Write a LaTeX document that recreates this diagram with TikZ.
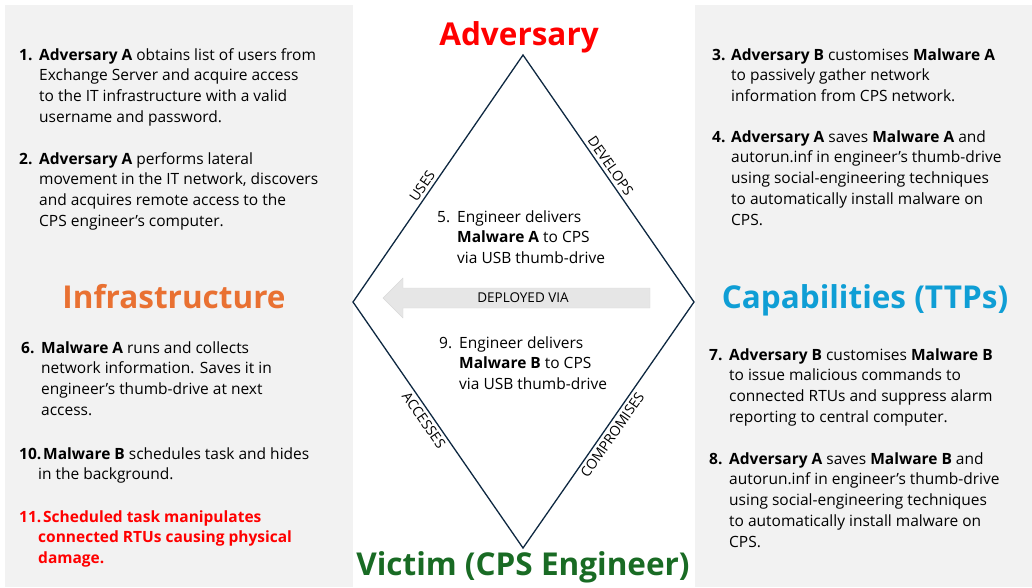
\documentclass[tikz,border=0pt]{standalone}
\usepackage{fontspec}
\setmainfont{Open Sans}
\usepackage{xcolor}
\usepackage{tikz}

\definecolor{panelgray}{HTML}{F2F2F2}
\definecolor{edgenavy}{HTML}{0E2841}
\definecolor{advred}{HTML}{FF0000}
\definecolor{infraorange}{HTML}{E97132}
\definecolor{capblue}{HTML}{0F9ED5}
\definecolor{victimgreen}{HTML}{196B24}
\definecolor{arrowgray}{HTML}{E6E6E6}

\newcommand{\bodyfont}{\fontsize{15.5}{20.8}\selectfont}
\newcommand{\lns}[1]{\begin{tabular}[t]{@{}l@{}}#1\end{tabular}}

\tikzset{
  num/.style={anchor=base west, inner sep=0pt, font=\bodyfont},
  body/.style={anchor=base west, inner sep=0pt, font=\bodyfont},
  vertex/.style={inner sep=0pt, font=\fontsize{31.5}{31.5}\selectfont\bfseries},
  rel/.style={sloped, inner sep=3.5pt, font=\fontsize{14}{14}\selectfont}
}

\begin{document}
\begin{tikzpicture}[x=1pt, y=-1pt]
             \useasboundingbox (0,0) rectangle (1032,587);
             \fill[panelgray] (5,5) rectangle (353,587);
             \fill[panelgray] (695,5) rectangle (1032,587);

             \coordinate (top) at (523,55);
             \coordinate (lft) at (353,302);
             \coordinate (rgt) at (694,302);
             \coordinate (bot) at (523,548);
             \draw[edgenavy, line width=1.3pt] (top) -- (rgt) -- (bot) -- (lft) -- cycle;

             \path (lft) -- node[rel, above, pos=.45] (uses) {USES} (top);
             \path (top) -- node[rel, above, pos=.47] (develops) {DEVELOPS} (rgt);
             \path (lft) -- node[rel, below, pos=.46] (accesses) {ACCESSES} (bot);
             \path (bot) -- node[rel, below, pos=.48] (compromises) {COMPROMISES} (rgt);

             \node[vertex, advred, anchor=base] (adv) at (519,45) {Adversary};
             \node[vertex, infraorange, anchor=base] (infra) at (174,308) {Infrastructure};
             \node[vertex, capblue, anchor=base] (cap) at (865,308) {Capabilities (TTPs)};
             \node[vertex, victimgreen, anchor=base] (victim) at (523,575) {Victim (CPS Engineer)};

             \fill[arrowgray, draw=black!15] (650,288) -- (403,288) -- (403,278) -- (383,298)
                  -- (403,318) -- (403,308) -- (650,308) -- cycle;
             \node[inner sep=0pt, font=\fontsize{13.5}{13.5}\selectfont] (deployed) at (523,298) {DEPLOYED VIA};

             \node[num] (n5) at (437,222) {5.};
             \node[body] (t5) at (457,222) {\lns{Engineer delivers\\ \textbf{Malware A} to CPS\\ via USB thumb-drive}};
             \node[num] (n9) at (439,348) {9.};
             \node[body] (t9) at (459,348) {\lns{Engineer delivers\\ \textbf{Malware B} to CPS\\ via USB thumb-drive}};

             \node[num] (n1) at (19,60) {\textbf{1.}};
             \node[body] (t1) at (39,60) {\lns{\textbf{Adversary A} obtains list of users from\\ Exchange Server and acquire access\\ to the IT infrastructure with a valid\\ username and password.}};
             \node[num] (n2) at (19,164) {\textbf{2.}};
             \node[body] (t2) at (39,164) {\lns{\textbf{Adversary A} performs lateral\\ movement in the IT network, discovers\\ and acquires remote access to the\\ CPS engineer’s computer.}};
             \node[num] (n6) at (21,353) {\textbf{6.}};
             \node[body] (t6) at (41,353) {\lns{\textbf{Malware A} runs and collects\\ network information. Saves it in\\ engineer’s thumb-drive at next\\ access.}};
             \node[num] (n10) at (19,459) {\textbf{10.}};
             \node[body] (t10) at (38,459) {\lns{\hspace{5pt}\textbf{Malware B} schedules task and hides\\ in the background.}};
             \node[num, advred] (n11) at (19,522) {\textbf{11.}};
             \node[body, advred] (t11) at (38,522) {\lns{\bfseries\hspace{5pt}Scheduled task manipulates\\ \bfseries connected RTUs causing physical\\ \bfseries damage.}};

             \node[num] (n3) at (712,60) {\textbf{3.}};
             \node[body] (t3) at (731,60) {\lns{\textbf{Adversary B} customises \textbf{Malware A}\\ to passively gather network\\ information from CPS network.}};
             \node[num] (n4) at (712,142) {\textbf{4.}};
             \node[body] (t4) at (731,142) {\lns{\textbf{Adversary A} saves \textbf{Malware A} and\\ autorun.inf in engineer’s thumb-drive\\ using social-engineering techniques\\ to automatically install malware on\\ CPS.}};
             \node[num] (n7) at (709,360) {\textbf{7.}};
             \node[body] (t7) at (729,360) {\lns{\textbf{Adversary B} customises \textbf{Malware B}\\ to issue malicious commands to\\ connected RTUs and suppress alarm\\ reporting to central computer.}};
             \node[num] (n8) at (709,464) {\textbf{8.}};
             \node[body] (t8) at (729,464) {\lns{\textbf{Adversary A} saves \textbf{Malware B} and\\ autorun.inf in engineer’s thumb-drive\\ using social-engineering techniques\\ to automatically install malware on\\ CPS.}};
             \end{tikzpicture}
\end{document}
